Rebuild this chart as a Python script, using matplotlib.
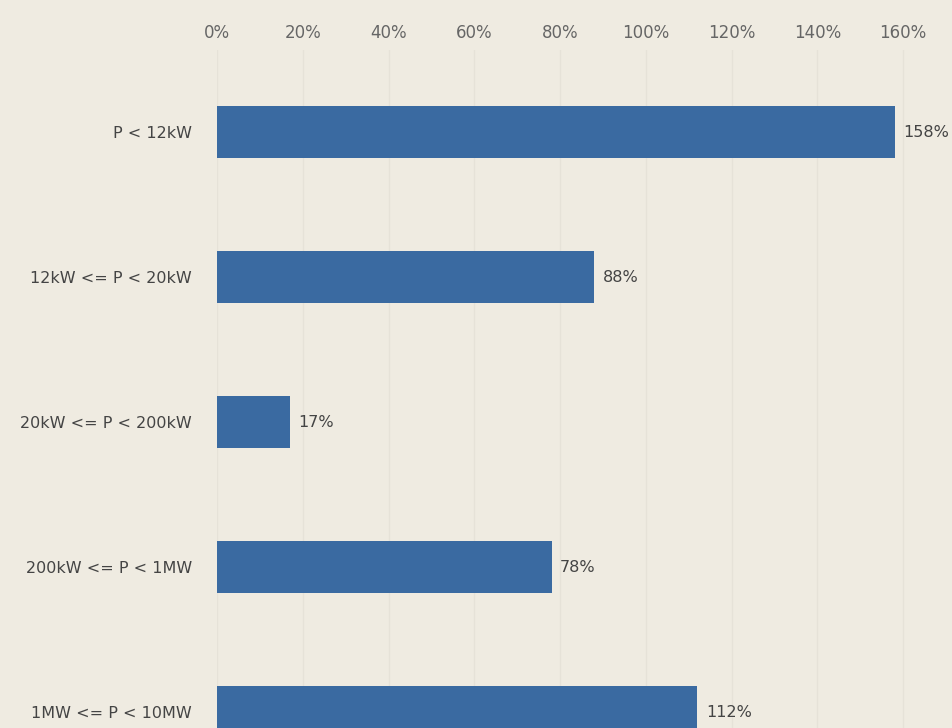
import matplotlib
matplotlib.use("Agg")
import matplotlib.pyplot as plt

categories = ["P < 12kW", "12kW <= P < 20kW", "20kW <= P < 200kW",
              "200kW <= P < 1MW", "1MW <= P < 10MW"]
values = [158, 88, 17, 78, 112]
xticks = [0, 20, 40, 60, 80, 100, 120, 140, 160]

bg = "#efebe1"
bar_color = "#3a6aa1"

plt.rcParams["font.family"] = ["DejaVu Sans"]

fig = plt.figure(figsize=(9.53, 7.28), dpi=100, facecolor=bg)
W, H = 953, 728
left, top = 217, 50
ax = fig.add_axes([left / W, 0, 1 - left / W, 1 - top / H])
ax.set_facecolor(bg)

ypos = list(range(len(categories)))
ax.barh(ypos, values, height=0.36, color=bar_color, zorder=3)

for y, v in zip(ypos, values):
    ax.text(v + 2, y, f"{v}%", va="center", ha="left", fontsize=11.5,
            color="#444444")

ax.set_xlim(0, 171.6)
ax.set_ylim(4.11, -0.566)
ax.set_xticks(xticks)
ax.set_xticklabels([f"{t}%" for t in xticks], fontsize=12, color="#666666")
ax.xaxis.tick_top()
ax.tick_params(axis="x", length=0, pad=6)
ax.set_yticks(ypos)
ax.set_yticklabels(categories, fontsize=11.5, color="#444444")
ax.tick_params(axis="y", length=0, pad=18)
ax.grid(axis="x", color="#e6e2d8", linewidth=1, zorder=0)
for s in ax.spines.values():
    s.set_visible(False)

fig.savefig("out.png", dpi=100, facecolor=bg)
